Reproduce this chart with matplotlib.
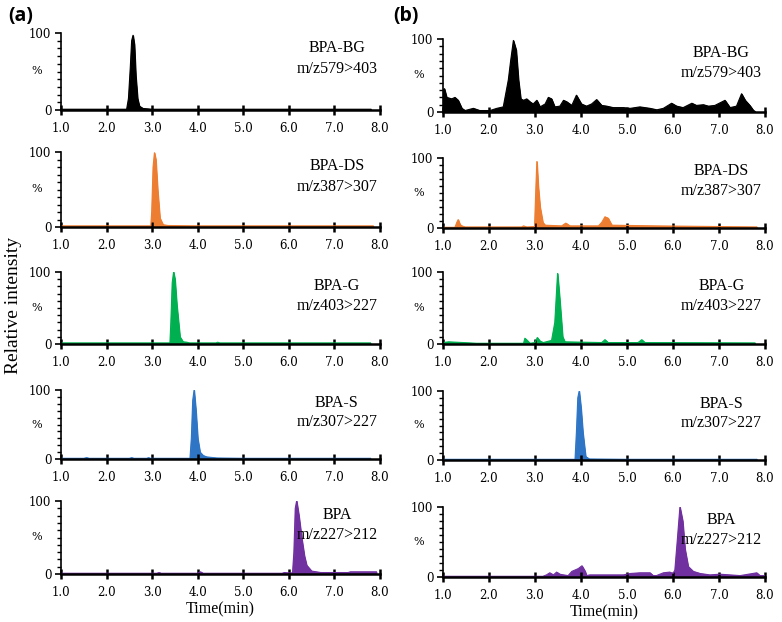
import matplotlib
matplotlib.use("Agg")
import matplotlib.pyplot as plt
from matplotlib.ticker import MultipleLocator, FormatStrFormatter

# ---- data: retention time (min) and relative intensity (%) ----
names = ["BPA-BG", "BPA-DS", "BPA-G", "BPA-S", "BPA"]
transitions = ["m/z579>403", "m/z387>307", "m/z403>227", "m/z307>227", "m/z227>212"]
colors = ["#000000", "#ED7D31", "#00B050", "#2E75C6", "#7030A0"]
xticks = [1.0, 2.0, 3.0, 4.0, 5.0, 6.0, 7.0, 8.0]

# (a) standards
t_bg_a = [1.0, 2.0, 2.44, 2.48, 2.52, 2.55, 2.58, 2.61, 2.64, 2.68, 2.72, 2.8, 2.9, 3.0, 4.0, 5.0, 6.0, 7.0, 7.8]
i_bg_a = [1, 1, 1, 15, 55, 90, 97, 85, 45, 15, 5, 2, 1.5, 1, 1, 1, 1, 1, 1]

t_ds_a = [1.0, 2.0, 2.97, 2.99, 3.02, 3.05, 3.08, 3.12, 3.17, 3.24, 3.35, 4.0, 5.0, 6.0, 7.0, 7.85]
i_ds_a = [1.5, 1.5, 1.5, 20, 80, 99, 90, 50, 12, 3, 2, 1.5, 1.5, 1.5, 1.5, 1.5]

t_g_a = [1.0, 2.0, 3.39, 3.41, 3.44, 3.47, 3.50, 3.54, 3.61, 3.68, 3.76, 3.82, 4.4, 4.44, 4.48, 5.0, 6.0, 7.0, 7.79]
i_g_a = [1.5, 1.5, 1.5, 30, 85, 100, 90, 55, 10, 3, 2.5, 1.5, 1.5, 2.5, 1.5, 1.5, 1.5, 1.5, 1.5]

t_s_a = [1.0, 1.5, 1.56, 1.62, 2.5, 2.55, 2.6, 2.88, 2.92, 2.96, 3.83, 3.86, 3.89, 3.92, 3.96, 4.0, 4.05, 4.12, 4.2, 4.42, 5.0, 6.0, 7.0, 7.79]
i_s_a = [1, 1, 2, 1, 1, 2, 1, 1, 2, 1, 1, 30, 85, 100, 70, 30, 10, 5, 3, 1.5, 1, 1, 1, 1]

t_b_a = [1.0, 2.0, 3.1, 3.15, 3.2, 4.0, 4.06, 4.12, 5.0, 5.85, 5.9, 6.0, 6.08, 6.11, 6.14, 6.17, 6.22, 6.28, 6.34, 6.39, 6.5, 6.7, 7.3, 7.35, 7.6, 7.92]
i_b_a = [1, 1, 1, 2, 1, 1, 3, 1, 1, 1, 2, 1.5, 1.5, 30, 90, 100, 80, 50, 25, 12, 4, 2, 2, 3, 3, 3]

# (b) samples
t_bg_b = [1.0, 1.03, 1.08, 1.19, 1.26, 1.33, 1.41, 1.48, 1.66, 1.80, 2.02, 2.17, 2.31, 2.42, 2.47, 2.53,
          2.59, 2.64, 2.69, 2.75, 2.82, 2.89, 2.96, 3.04, 3.11, 3.22, 3.29, 3.36, 3.43, 3.54, 3.62, 3.69,
          3.80, 3.90, 4.01, 4.12, 4.23, 4.34, 4.45, 4.56, 4.70, 4.92, 5.07, 5.28, 5.50, 5.65, 5.79, 5.97,
          6.08, 6.22, 6.41, 6.51, 6.66, 6.77, 6.91, 7.13, 7.24, 7.38, 7.49, 7.57, 7.67, 7.75, 7.78]
i_bg_b = [30, 32, 20, 18, 20, 16, 5, 2, 5, 2, 2, 5, 7, 44, 70, 98,
          85, 44, 18, 16, 18, 14, 11, 16, 7, 11, 20, 18, 7, 8, 16, 14,
          9, 23, 11, 8, 11, 17, 9, 8, 6, 6, 5, 7, 5, 3, 5, 12,
          8, 6, 12, 9, 10, 8, 9, 16, 6, 8, 25, 16, 9, 2, 1]

t_ds_b = [1.0, 1.26, 1.30, 1.33, 1.37, 1.41, 1.48, 2.71, 2.75, 2.82, 2.99, 3.02, 3.04, 3.07, 3.11, 3.17,
          3.22, 3.58, 3.67, 3.76, 4.38, 4.45, 4.52, 4.59, 4.67, 5.65, 7.82]
i_ds_b = [1, 1, 8, 12, 5, 3, 1.5, 1.5, 3, 1.5, 2, 60, 95, 60, 30, 8,
          4, 3, 7, 3, 3, 8, 16, 14, 4, 3, 1.5]

t_g_b = [1.0, 1.12, 1.44, 1.73, 2.75, 2.78, 2.83, 2.89, 3.00, 3.05, 3.11, 3.18, 3.36, 3.43, 3.49, 3.54,
         3.60, 3.65, 4.45, 4.52, 4.59, 5.24, 5.32, 5.39, 7.78]
i_g_b = [2, 3, 2, 1, 1, 8, 5, 1, 2, 9, 4, 2, 5, 30, 98, 60,
         10, 3, 2, 6, 2, 2, 6, 2, 1.5]

t_s_b = [1.0, 2.0, 3.0, 3.87, 3.90, 3.93, 3.96, 4.00, 4.04, 4.10, 4.18, 5.0, 6.0, 7.0, 7.82]
i_s_b = [1, 1, 1, 1, 40, 90, 100, 75, 40, 5, 1.5, 1, 1, 1, 1]

t_b_b = [1.0, 2.0, 3.17, 3.25, 3.32, 3.40, 3.47, 3.54, 3.62, 3.72, 3.80, 3.87, 3.94, 4.02, 4.09, 4.12,
         4.19, 4.92, 5.07, 5.28, 5.50, 5.57, 5.64, 5.79, 5.93, 6.00, 6.04, 6.09, 6.15, 6.21, 6.26, 6.33,
         6.44, 6.59, 6.80, 7.02, 7.46, 7.82, 7.89, 7.98]
i_b_b = [1, 1, 1, 3, 6, 3, 7, 4, 3, 2, 8, 10, 12, 16, 8, 2,
         3, 3, 5, 6, 6, 2, 2, 6, 7, 5, 10, 50, 100, 80, 40, 15,
         8, 5, 3, 4, 2, 6, 2, 2]

series_a = [(t_bg_a, i_bg_a), (t_ds_a, i_ds_a), (t_g_a, i_g_a), (t_s_a, i_s_a), (t_b_a, i_b_a)]
series_b = [(t_bg_b, i_bg_b), (t_ds_b, i_ds_b), (t_g_b, i_g_b), (t_s_b, i_s_b), (t_b_b, i_b_b)]

# ---- layout (pixels) ----
W, H = 782, 622
cols = [(61, 380), (443, 765)]
rows_a = [(33, 110), (152, 227), (272, 344), (390, 459), (501, 574)]
rows_b = [(39, 112), (158, 228), (272, 344), (391, 460), (507, 577)]

serif = "DejaVu Serif"
label_font = "Liberation Serif"
fig = plt.figure(figsize=(W / 100, H / 100), dpi=100)


def panel(x0, x1, y0, y1, t, y, color, name, trans, last):
    ax = fig.add_axes([x0 / W, 1 - y1 / H, (x1 - x0) / W, (y1 - y0) / H])
    ax.fill_between(t, y, 0, color=color, lw=0.8)
    ax.plot(t, y, color=color, lw=0.8)
    ax.set_xlim(1, 8)
    ax.set_ylim(0, 100)
    ax.spines["top"].set_visible(False)
    ax.spines["right"].set_visible(False)
    ax.spines["left"].set_linewidth(1.2)
    ax.spines["bottom"].set_linewidth(1.8)
    ax.set_xticks(xticks)
    ax.xaxis.set_major_formatter(FormatStrFormatter("%.1f"))
    ax.tick_params(axis="x", direction="inout", length=7, width=1.8, labelsize=8.5, pad=5)
    ax.set_yticks([0, 100])
    ax.yaxis.set_minor_locator(MultipleLocator(10))
    ax.tick_params(axis="y", which="major", direction="out", length=4, width=1.2, labelsize=8.5, pad=3)
    ax.tick_params(axis="y", which="minor", direction="out", length=3, width=1)
    for lab in ax.get_xticklabels() + ax.get_yticklabels():
        lab.set_fontfamily(serif)
    ax.text(-0.075, 0.5, "%", transform=ax.transAxes, fontsize=8, family=serif,
            ha="center", va="center")
    ax.text(0.865, 0.81, name, transform=ax.transAxes, fontsize=11.5, family=label_font,
            ha="center", va="center")
    ax.text(0.865, 0.53, trans, transform=ax.transAxes, fontsize=11.5, family=label_font,
            ha="center", va="center")
    if last:
        ax.set_xlabel("Time(min)", fontsize=11.5, family=label_font, labelpad=2)
    return ax


for k in range(5):
    panel(cols[0][0], cols[0][1], rows_a[k][0], rows_a[k][1], series_a[k][0], series_a[k][1],
          colors[k], names[k], transitions[k], k == 4)
    panel(cols[1][0], cols[1][1], rows_b[k][0], rows_b[k][1], series_b[k][0], series_b[k][1],
          colors[k], names[k], transitions[k], k == 4)

fig.text(8 / W, 1 - 16 / H, "(a)", fontsize=14, fontweight="bold", family="Open Sans",
         ha="left", va="center")
fig.text(393 / W, 1 - 16 / H, "(b)", fontsize=14, fontweight="bold", family="Open Sans",
         ha="left", va="center")
fig.text(14 / W, 1 - 305 / H, "Relative intensity", fontsize=14, family=label_font,
         rotation=90, ha="center", va="center")

fig.savefig("out.png", dpi=100)
